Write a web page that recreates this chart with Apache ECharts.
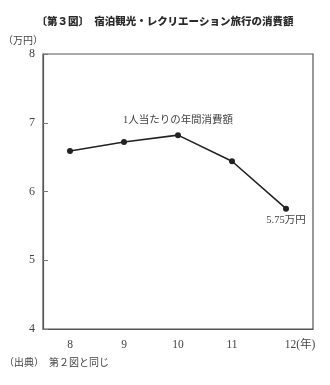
<!DOCTYPE html>
<html><head><meta charset="utf-8">
<script src="https://cdn.jsdelivr.net/npm/echarts@6/dist/echarts.min.js"></script>
<style>html,body{margin:0;padding:0;background:#fff}#c{width:330px;height:385px}</style>
</head><body><div id="c"></div>
<script>
const years = ['8', '9', '10', '11', '12'];
const spending = [6.59, 6.72, 6.82, 6.44, 5.75];
const yTicks = [4, 5, 6, 7, 8];
const seriesLabel = '1人当たりの年間消費額';
const lastLabel = '5.75万円';

const serif = '"Liberation Serif","DejaVu Serif","Noto Sans CJK JP",serif';
const jp = '"Noto Sans CJK JP",sans-serif';
const chart = echarts.init(document.getElementById('c'), null, {renderer: 'canvas'});
const data = spending.map((v, i) => {
  const d = {value: v};
  if (i === 2) d.label = {show: true, position: 'top', distance: 7, formatter: seriesLabel, fontFamily: serif, fontSize: 10.5, color: '#444'};
  if (i === 4) d.label = {show: true, position: 'bottom', distance: 3, formatter: lastLabel, fontFamily: serif, fontSize: 10.5, color: '#444'};
  return d;
});
chart.setOption({
  animation: false,
  title: {
    text: '〔第３図〕　宿泊観光・レクリエーション旅行の消費額',
    left: 'center', top: 11,
    textStyle: {fontFamily: jp, fontSize: 10.5, fontWeight: 900, color: '#2a2a2a'}
  },
  graphic: [
    {type: 'text', left: 3, top: 35, style: {text: '（万円）', font: '10px "Noto Sans CJK JP"', fill: '#444'}},
    {type: 'text', left: 4, top: 357, style: {text: '（出典）　第２図と同じ', font: '10px "Noto Sans CJK JP"', fill: '#444'}}
  ],
  grid: {left: 43, right: 17, top: 54, bottom: 56, show: true, borderColor: '#555', borderWidth: 1.2, backgroundColor: 'transparent'},
  xAxis: {
    type: 'category',
    data: years.map((y, i) => i === years.length - 1 ? {value: y, textStyle: {padding: [0, 0, 0, 28]}} : y),
    boundaryGap: true,
    axisLine: {lineStyle: {color: '#555', width: 1.2}},
    axisTick: {inside: true, length: 4, lineStyle: {color: '#777'}},
    axisLabel: {
      fontFamily: serif, fontSize: 11.5, color: '#444', margin: 10,
      formatter: (v, i) => i === years.length - 1 ? v + '(年)' : v
    }
  },
  yAxis: {
    type: 'value', min: yTicks[0], max: yTicks[yTicks.length - 1], interval: 1,
    splitLine: {show: false},
    axisLine: {show: true, lineStyle: {color: '#555', width: 1.2}},
    axisTick: {show: true, inside: true, length: 5, lineStyle: {color: '#777'}},
    axisLabel: {fontFamily: serif, fontSize: 12, color: '#444', margin: 8}
  },
  series: [{
    type: 'line', data: data,
    symbol: 'circle', symbolSize: 6,
    lineStyle: {color: '#222', width: 1.6},
    itemStyle: {color: '#222'}
  }]
});
</script></body></html>
